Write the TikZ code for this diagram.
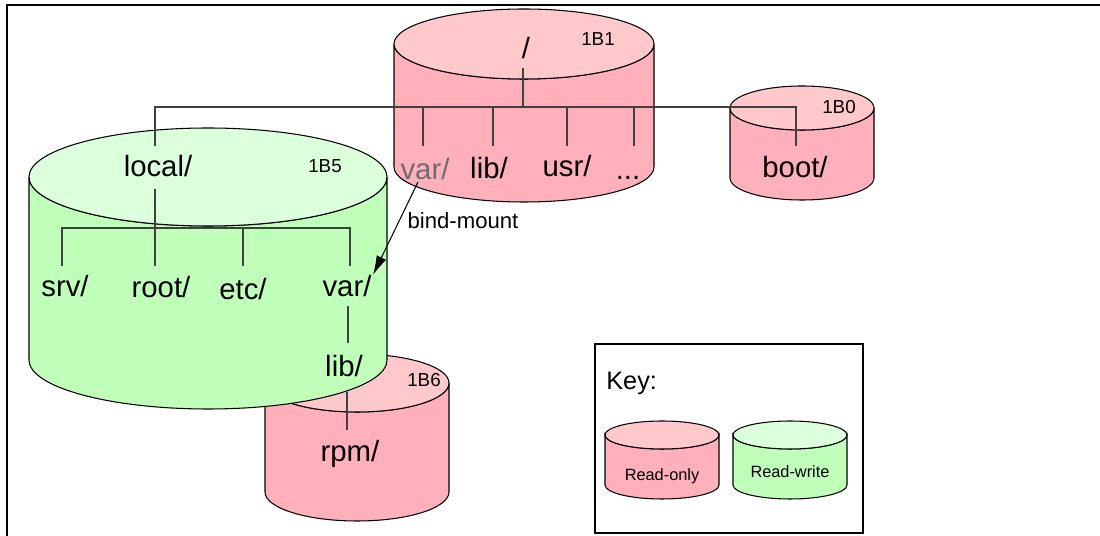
\documentclass[tikz,border=0pt]{standalone}
\usepackage{fontspec}
\setmainfont{Liberation Sans}
\usetikzlibrary{arrows.meta}

\definecolor{roSide}{RGB}{255,176,186}
\definecolor{roTop}{RGB}{255,201,204}
\definecolor{rwSide}{RGB}{192,255,186}
\definecolor{rwTop}{RGB}{220,255,220}
\definecolor{treeGray}{RGB}{64,64,64}
\definecolor{dimText}{RGB}{110,110,110}

% \drum{cx}{top centre y}{bottom centre y}{rx}{ry}{side colour}{top colour}
% (y values are measured downwards)
\newcommand{\drum}[7]{%
  \filldraw[fill=#6,draw=black,line width=0.6pt]
    (#1-#4,-#2) -- (#1-#4,-#3)
    arc[start angle=180,end angle=360,x radius=#4,y radius=#5]
    -- (#1+#4,-#2)
    arc[start angle=0,end angle=-180,x radius=#4,y radius=#5] -- cycle;
  \filldraw[fill=#7,draw=black,line width=0.6pt]
    (#1,-#2) ellipse[x radius=#4,y radius=#5];
}

\begin{document}
\begin{tikzpicture}[x=0.02cm,y=0.02cm,
  big/.style={font=\fontsize{16.7}{20}\selectfont,inner sep=0pt,anchor=base},
  tag/.style={font=\fontsize{10.7}{13}\selectfont,inner sep=0pt,anchor=base},
  note/.style={font=\fontsize{12.6}{15}\selectfont,inner sep=0pt,anchor=base},
  keytitle/.style={font=\fontsize{14.4}{17}\selectfont,inner sep=0pt,anchor=base west},
  keylabel/.style={font=\fontsize{9.3}{11}\selectfont,inner sep=0pt,anchor=base},
  tree/.style={draw=treeGray,line width=0.6pt}]
\useasboundingbox (0,0) rectangle (1100,-536);

% outer frame (top and left edges)
\draw[line width=0.7pt] (7,-536) -- (7,-5) -- (1100,-5);

% disks
\drum{357}{383}{492}{92}{29}{roSide}{roTop}     % 1B6
\drum{208}{177}{360}{179}{49}{rwSide}{rwTop}    % 1B5
\drum{524}{44}{167}{130}{35}{roSide}{roTop}     % 1B1
\drum{802}{108}{178}{72}{22}{roSide}{roTop}     % 1B0

% directory names
\node[big] (root) at (526,-59) {/};
\node[tag] (t1B1) at (598,-46) {1B1};
\node[big,text=dimText] (varRO) at (425,-180) {var/};
\node[big] (libRO) at (489,-179) {lib/};
\node[big] (usr) at (567,-177) {usr/};
\node[big] (more) at (628,-180) {...};
\node[big] (boot) at (795,-178) {boot/};
\node[tag] (t1B0) at (839,-114) {1B0};
\node[big] (local) at (158,-177) {local/};
\node[tag] (t1B5) at (325,-173) {1B5};
\node[big] (srv) at (65,-297) {srv/};
\node[big] (rootdir) at (161,-298) {root/};
\node[big] (etc) at (243,-300) {etc/};
\node[big] (varRW) at (347,-297) {var/};
\node[big] (libRW) at (344,-377) {lib/};
\node[big] (rpm) at (350,-462) {rpm/};
\node[tag] (t1B6) at (424,-387) {1B6};

% tree of the read-only root
\coordinate (rootStem) at (523,-68);
\coordinate (busL) at (155,-107);
\coordinate (busR) at (796,-107);
\draw[tree] (rootStem) -- (523,-107);
\draw[tree] (155,-146) -- (busL) -- (busR) -- (796,-146);
\foreach \x in {423,493,567,634} \draw[tree] (\x,-107) -- (\x,-146);

% tree of local/
\coordinate (localStem) at (155,-189);
\draw[tree] (localStem) -- (155,-228);
\draw[tree] (62,-266) -- (62,-228) -- (350,-228) -- (350,-266);
\foreach \x in {155,243} \draw[tree] (\x,-228) -- (\x,-266);
\draw[tree] (348,-306) -- (348,-343);
\draw[tree] (347,-392) -- (347,-430);

% bind mount
\coordinate (bindFrom) at (418,-182);
\coordinate (bindTo) at (373,-275);
\draw[line width=0.6pt,-{Latex[length=11pt,width=6pt]}] (bindFrom) -- (bindTo);
\node[note] (bind) at (463,-229) {bind-mount};

% key
\draw[line width=0.6pt] (595,-344) rectangle (863,-533);
\node[keytitle] (key) at (606,-390) {Key:};
\drum{662}{435}{485}{57}{14}{roSide}{roTop}
\drum{790}{435}{485}{57}{14}{rwSide}{rwTop}
\node[keylabel] (ro) at (662,-481) {Read-only};
\node[keylabel] (rw) at (790,-478) {Read-write};
\end{tikzpicture}
\end{document}
